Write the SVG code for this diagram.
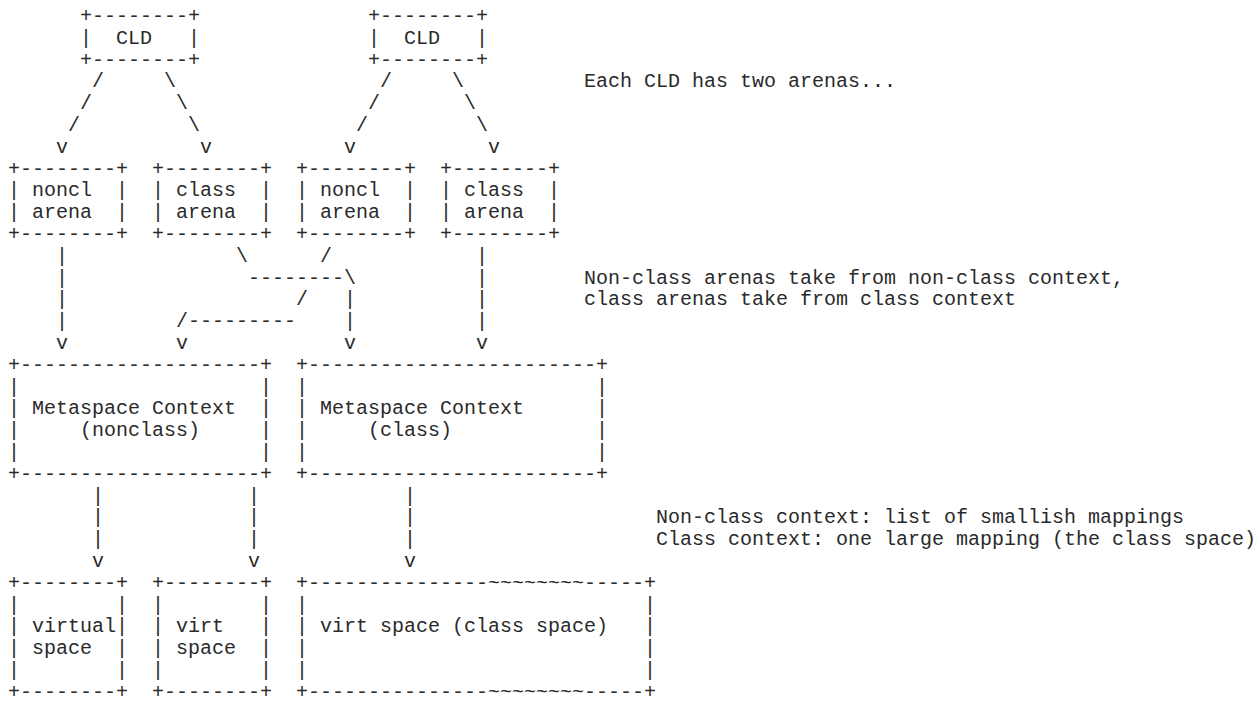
<svg xmlns="http://www.w3.org/2000/svg" width="1256" height="703" viewBox="0 0 1256 703" xml:space="preserve">
<style>
text { font-family: "Liberation Mono", "DejaVu Sans Mono", monospace; font-size: 20px; fill: #2a2a2a; white-space: pre; }
</style>
<rect width="1256" height="703" fill="#ffffff"/>
<g id="cld-1">
<text x="80" y="22">+--------+</text>
<text x="80" y="43.8">|  CLD   |</text>
<text x="80" y="65.6">+--------+</text>
</g>
<g id="cld-2">
<text x="368" y="22">+--------+</text>
<text x="368" y="43.8">|  CLD   |</text>
<text x="368" y="65.6">+--------+</text>
</g>
<g id="arena-noncl-1">
<text x="8" y="174.6">+--------+</text>
<text x="8" y="196.4">| noncl  |</text>
<text x="8" y="218.2">| arena  |</text>
<text x="8" y="240">+--------+</text>
</g>
<g id="arena-class-1">
<text x="152" y="174.6">+--------+</text>
<text x="152" y="196.4">| class  |</text>
<text x="152" y="218.2">| arena  |</text>
<text x="152" y="240">+--------+</text>
</g>
<g id="arena-noncl-2">
<text x="296" y="174.6">+--------+</text>
<text x="296" y="196.4">| noncl  |</text>
<text x="296" y="218.2">| arena  |</text>
<text x="296" y="240">+--------+</text>
</g>
<g id="arena-class-2">
<text x="440" y="174.6">+--------+</text>
<text x="440" y="196.4">| class  |</text>
<text x="440" y="218.2">| arena  |</text>
<text x="440" y="240">+--------+</text>
</g>
<g id="ctx-nonclass">
<text x="8" y="370.8">+--------------------+</text>
<text x="8" y="392.6">|                    |</text>
<text x="8" y="414.4">| Metaspace Context  |</text>
<text x="8" y="436.2">|     (nonclass)     |</text>
<text x="8" y="458">|                    |</text>
<text x="8" y="479.8">+--------------------+</text>
</g>
<g id="ctx-class">
<text x="296" y="370.8">+------------------------+</text>
<text x="296" y="392.6">|                        |</text>
<text x="296" y="414.4">| Metaspace Context      |</text>
<text x="296" y="436.2">|     (class)            |</text>
<text x="296" y="458">|                        |</text>
<text x="296" y="479.8">+------------------------+</text>
</g>
<g id="vspace-1">
<text x="8" y="588.8">+--------+</text>
<text x="8" y="610.6">|        |</text>
<text x="8" y="632.4">| virtual|</text>
<text x="8" y="654.2">| space  |</text>
<text x="8" y="676">|        |</text>
<text x="8" y="697.8">+--------+</text>
</g>
<g id="vspace-2">
<text x="152" y="588.8">+--------+</text>
<text x="152" y="610.6">|        |</text>
<text x="152" y="632.4">| virt   |</text>
<text x="152" y="654.2">| space  |</text>
<text x="152" y="676">|        |</text>
<text x="152" y="697.8">+--------+</text>
</g>
<g id="vspace-class">
<text x="296" y="588.8">+---------------~~~~~~~~-----+</text>
<text x="296" y="610.6">|                            |</text>
<text x="296" y="632.4">| virt space (class space)   |</text>
<text x="296" y="654.2">|                            |</text>
<text x="296" y="676">|                            |</text>
<text x="296" y="697.8">+---------------~~~~~~~~-----+</text>
</g>
<g id="connectors">
<text x="92" y="87.4">/</text><text x="164" y="87.4">\</text>
<text x="380" y="87.4">/</text><text x="452" y="87.4">\</text>
<text x="80" y="109.2">/</text><text x="176" y="109.2">\</text>
<text x="368" y="109.2">/</text><text x="464" y="109.2">\</text>
<text x="68" y="131">/</text><text x="188" y="131">\</text>
<text x="356" y="131">/</text><text x="476" y="131">\</text>
<text x="56" y="152.8">v</text><text x="200" y="152.8">v</text>
<text x="344" y="152.8">v</text><text x="488" y="152.8">v</text>
<text x="56" y="261.8">|</text><text x="236" y="261.8">\</text><text x="320" y="261.8">/</text><text x="476" y="261.8">|</text>
<text x="56" y="283.6">|</text><text x="248" y="283.6">--------\</text><text x="476" y="283.6">|</text>
<text x="56" y="305.4">|</text><text x="296" y="305.4">/</text><text x="344" y="305.4">|</text><text x="476" y="305.4">|</text>
<text x="56" y="327.2">|</text><text x="176" y="327.2">/---------</text><text x="344" y="327.2">|</text><text x="476" y="327.2">|</text>
<text x="56" y="349">v</text><text x="176" y="349">v</text><text x="344" y="349">v</text><text x="476" y="349">v</text>
<text x="92" y="501.6">|</text><text x="248" y="501.6">|</text><text x="404" y="501.6">|</text>
<text x="92" y="523.4">|</text><text x="248" y="523.4">|</text><text x="404" y="523.4">|</text>
<text x="92" y="545.2">|</text><text x="248" y="545.2">|</text><text x="404" y="545.2">|</text>
<text x="92" y="567">v</text><text x="248" y="567">v</text><text x="404" y="567">v</text>
</g>
<g id="notes">
<text x="584" y="87.4">Each CLD has two arenas...</text>
<text x="584" y="283.6">Non-class arenas take from non-class context,</text>
<text x="584" y="305.4">class arenas take from class context</text>
<text x="656" y="523.4">Non-class context: list of smallish mappings</text>
<text x="656" y="545.2">Class context: one large mapping (the class space)</text>
</g>
</svg>
